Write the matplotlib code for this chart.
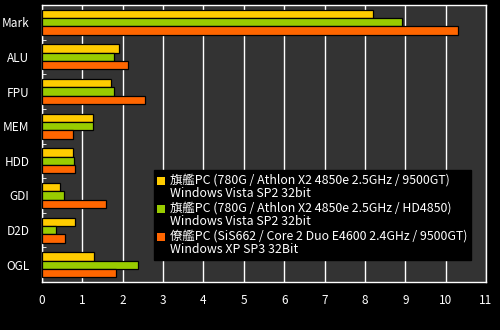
import numpy as np
import matplotlib.pyplot as plt
from matplotlib.patches import Patch

plt.rcParams['font.family'] = ['Noto Sans CJK JP', 'DejaVu Sans']

# データ
categories = ['Mark', 'ALU', 'FPU', 'MEM', 'HDD', 'GDI', 'D2D', 'OGL']
pc_9500gt = [8.21, 1.91, 1.71, 1.27, 0.77, 0.45, 0.82, 1.29]
pc_hd4850 = [8.93, 1.79, 1.79, 1.27, 0.79, 0.55, 0.35, 2.38]
pc_sis662 = [10.30, 2.13, 2.56, 0.77, 0.82, 1.59, 0.57, 1.84]
series_labels = [
    '旗艦PC (780G / Athlon X2 4850e 2.5GHz / 9500GT)\nWindows Vista SP2 32bit',
    '旗艦PC (780G / Athlon X2 4850e 2.5GHz / HD4850)\nWindows Vista SP2 32bit',
    '僚艦PC (SiS662 / Core 2 Duo E4600 2.4GHz / 9500GT)\nWindows XP SP3 32Bit',
]
colors = ['#FFCC00', '#99CC00', '#FF6600']

fig = plt.figure(figsize=(5, 3.3), dpi=100, facecolor='black')
ax = fig.add_axes([42 / 500, 48 / 330, 444 / 500, 277 / 330])
ax.set_facecolor('#333333')

y = np.arange(len(categories))
h = 0.24
for i, vals in enumerate([pc_9500gt, pc_hd4850, pc_sis662]):
    ax.barh(y + (i - 1) * h, vals, height=h, color=colors[i],
            edgecolor='black', linewidth=0.9, zorder=3)

ax.set_xlim(0, 11)
ax.set_ylim(len(categories) - 0.5, -0.5)
ax.set_xticks(range(12))
ax.set_yticks(y)
ax.set_yticklabels(categories)
ax.set_yticks(np.arange(0.5, len(categories) - 1, 1), minor=True)
ax.grid(axis='x', color='white', linewidth=1, zorder=1)
ax.tick_params(axis='both', colors='white', labelsize=8.5, length=0, pad=9)
ax.tick_params(axis='y', which='minor', direction='in', length=3, color='white')
for s in ax.spines.values():
    s.set_color('white')
    s.set_linewidth(1)

handles = [Patch(facecolor=c, edgecolor='none') for c in colors]
leg = ax.legend(handles, series_labels, loc='lower right',
                bbox_to_anchor=(0.966, 0.079), borderaxespad=0,
                fontsize=8.9, labelcolor='white', frameon=True,
                facecolor='black', edgecolor='black', framealpha=1,
                fancybox=False, handlelength=0.6, handleheight=0.6,
                handletextpad=0.4, labelspacing=0.1, borderpad=0.3)
for t in leg.get_texts():
    t.set_linespacing(1.08)
for hnd in leg.legend_handles:
    hnd.set_y(hnd.get_y() + 5)

plt.savefig('out.png', dpi=100, facecolor='black')
